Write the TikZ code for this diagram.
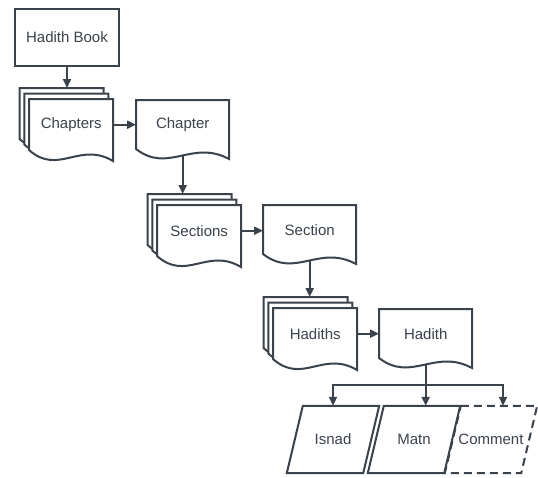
\documentclass[tikz,border=0pt]{standalone}
\usepackage{fontspec}
\setmainfont{Liberation Sans}
\usetikzlibrary{arrows.meta,calc,backgrounds}

\definecolor{ink}{HTML}{3A424B}

\tikzset{
  line/.style={draw=ink, line width=2pt},
  arrow/.style={line, -{Triangle[length=9pt,width=8pt]}},
  bookbox/.style={line, minimum width=104pt, minimum height=57pt, text=ink},
  docbox/.style={anchor=north west, minimum width=93pt, minimum height=49pt, inner sep=0pt, text=ink},
  stackbox/.style={docbox, minimum width=84pt, minimum height=51pt},
  databox/.style={minimum width=76pt, minimum height=67pt, inner sep=0pt, text=ink},
}

% sheet with wavy bottom: corner, width, left height, right height
\newcommand{\docsheet}[4]{%
  \draw[line, fill=white] #1 -- ($#1+(#2,0)$) -- ($#1+(#2,#4)$)
    .. controls ($#1+(0.6*#2,#4-20)$) and ($#1+(0.35*#2,#4+15)$) .. ($#1+(0,#3)$) -- cycle;}

% parallelogram round a node
\newcommand{\slanted}[2][]{%
  \draw[line, #1] ([xshift=8pt]#2.north west) -- ([xshift=8pt]#2.north east)
    -- ([xshift=-8pt]#2.south east) -- ([xshift=-8pt]#2.south west) -- cycle;}

\begin{document}
\begin{tikzpicture}[x=1pt, y=-1pt, font=\fontsize{15}{18}\selectfont]
        \useasboundingbox (0,0) rectangle (538,477);

        % Nodi
        \node[bookbox] (hadithbook) at (67,37.5) {Hadith Book};
        \node[stackbox] (chapters) at (29,99) {Chapters};
        \node[docbox] (chapter) at (136,100) {Chapter};
        \node[stackbox] (sections) at (157,205) {Sections};
        \node[docbox] (section) at (263,205) {Section};
        \node[stackbox] (hadiths) at (273,308) {Hadiths};
        \node[docbox] (hadith) at (379,309) {Hadith};
        \node[databox] (isnad) at (333,439.5) {Isnad};
        \node[databox] (matn) at (414,439.5) {Matn};
        \node[databox] (comment) at (491,439.5) {Comment};

        \foreach \s in {chapters,sections,hadiths} {
            \path (\s.north west) ++(-9.5,-11) coordinate (\s-back) ++(4.75,5.5) coordinate (\s-mid);
        }

        % Fogli e parallelogrammi dietro il testo
        \begin{scope}[on background layer]
            \foreach \s in {chapters,sections,hadiths} {
                \docsheet{(\s-back)}{84}{51}{62}
                \docsheet{(\s-mid)}{84}{51}{62}
                \docsheet{(\s.north west)}{84}{51}{62}
            }
            \foreach \d in {chapter,section,hadith} {
                \docsheet{(\d.north west)}{93}{49}{59}
            }
            \slanted{isnad}
            \slanted{matn}
            \slanted[dash pattern=on 8pt off 5pt]{comment}
        \end{scope}

        % Frecce
        \draw[arrow] (hadithbook) -- (hadithbook.south |- chapters-back);
        \draw[arrow] (chapters.east) -- (chapters.east -| chapter.west);
        \draw[arrow] ([yshift=-7pt]chapter.south) -- (chapter.south |- sections-back);
        \draw[arrow] (sections.east) -- (sections.east -| section.west);
        \draw[arrow] ([yshift=-7pt]section.south) -- (section.south |- hadiths-back);
        \draw[arrow] (hadiths.east) -- (hadiths.east -| hadith.west);

        \coordinate (fork) at ([yshift=-27pt]hadith.south);
        \draw[line] ([yshift=-7pt]hadith.south) -- (fork);
        \draw[arrow] (fork) -| (isnad.north);
        \draw[arrow] (fork) -- (fork |- matn.north);
        \draw[arrow] (fork) -| ([xshift=12pt]comment.north);
    \end{tikzpicture}
\end{document}
